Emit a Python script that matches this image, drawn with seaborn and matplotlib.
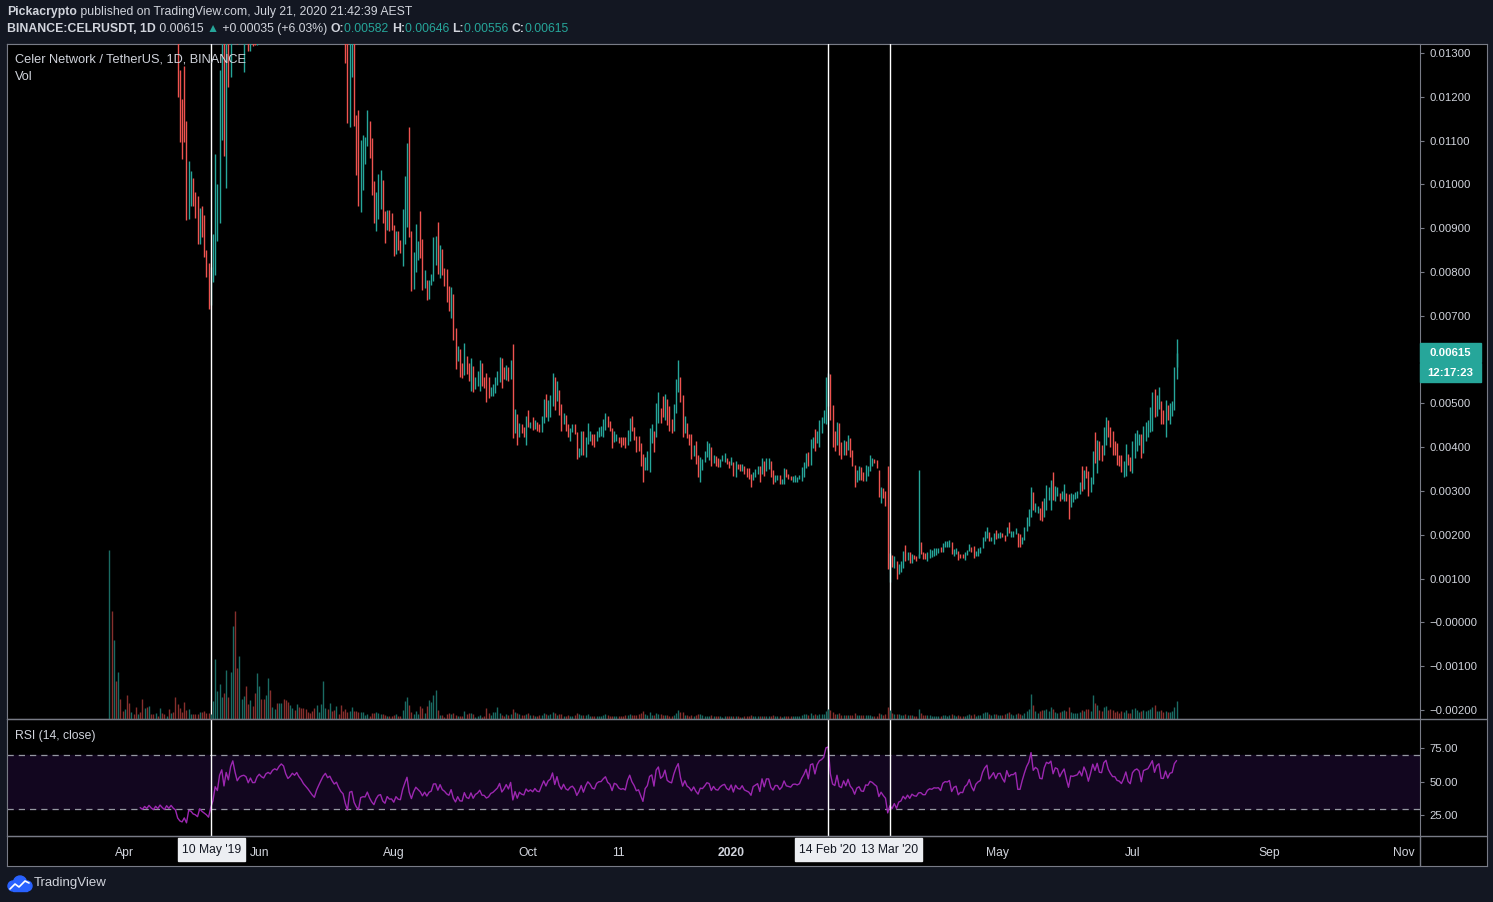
import numpy as np
import pandas as pd
import seaborn as sns
import matplotlib
matplotlib.use("Agg")
import matplotlib.pyplot as plt
import matplotlib.dates as mdates
from matplotlib.lines import Line2D
from matplotlib.patches import Rectangle, Circle

# ---------------- data ----------------
# daily CELR/USDT candles from the listing day, prices in units of 0.00001 USDT
start_date = "2019-03-25"

opens = [
    2000, 2300, 2050, 2150, 1980, 2080, 1950, 1880, 1990, 1900,   # d0
    1840, 1920, 1850, 1780, 1820, 1760, 1700, 1740, 1680, 1720,   # d10
    1650, 1600, 1640, 1580, 1620, 1560, 1510, 1550, 1490, 1520,   # d20
    1460, 1420, 1261, 1196, 1270, 1145, 920, 950, 1015, 983,      # d30
    973, 865, 950, 930, 850, 820, 724, 777, 792, 871,             # d40
    911, 1101, 1420, 992, 1520, 1246, 1650, 1900, 1600, 1320,     # d50
    1450, 1257, 1520, 1560, 1305, 1480, 1400, 1318, 1480, 1560,   # d60
    1500, 1470, 1580, 1620, 1590, 1680, 1720, 1700, 1790, 1850,   # d70
    1820, 1700, 1620, 1660, 1720, 1690, 1740, 1680, 1640, 1580,   # d80
    1540, 1500, 1450, 1400, 1360, 1440, 1500, 1560, 1620, 1660,   # d90
    1610, 1630, 1580, 1540, 1560, 1500, 1450, 1460, 1340, 1132,   # d100
    1246, 1340, 1158, 1170, 937, 987, 1046, 1087, 1145, 1105,     # d110
    1007, 894, 920, 944, 1010, 939, 895, 941, 934, 907,           # d120
    840, 893, 874, 814, 863, 903, 1131, 893, 762, 800,            # d130
    828, 939, 875, 764, 781, 739, 771, 779, 815, 914,             # d140
    787, 852, 809, 806, 767, 695, 749, 672, 596, 625,             # d150
    592, 564, 609, 592, 529, 585, 533, 539, 529, 592,             # d160
    560, 569, 561, 516, 516, 523, 541, 548, 604, 584,             # d170
    554, 583, 555, 636, 432, 475, 423, 452, 447, 406,             # d180
    486, 443, 470, 442, 458, 453, 434, 455, 522, 459,             # d190
    470, 493, 560, 505, 531, 499, 452, 474, 452, 415,             # d200
    434, 453, 434, 377, 383, 436, 378, 408, 415, 429,             # d210
    429, 413, 423, 425, 424, 440, 472, 459, 444, 411,             # d220
    413, 424, 424, 424, 423, 406, 415, 472, 447, 426,             # d230
    426, 410, 385, 349, 349, 343, 409, 438, 424, 455,             # d240
    490, 516, 462, 510, 495, 465, 436, 478, 526, 560,             # d250
    518, 432, 456, 430, 430, 379, 413, 382, 320, 349,             # d260
    365, 378, 371, 401, 364, 379, 375, 354, 368, 367,             # d270
    376, 369, 359, 365, 331, 362, 362, 346, 358, 353,             # d280
    353, 339, 324, 333, 339, 358, 339, 369, 346, 350,             # d290
    369, 349, 320, 325, 337, 317, 317, 350, 339, 335,             # d300
    320, 320, 320, 327, 322, 333, 353, 388, 360, 398,             # d310
    442, 409, 401, 432, 455, 452, 495, 566, 497, 436,             # d320
    404, 455, 411, 383, 415, 394, 421, 394, 360, 320,             # d330
    325, 354, 344, 322, 335, 346, 356, 372, 371, 349,             # d340
    272, 306, 301, 356, 91, 154, 125, 141, 110, 114,              # d350
    125, 177, 142, 161, 135, 154, 152, 148, 184, 160,             # d360
    158, 141, 148, 150, 152, 154, 158, 171, 161, 171,             # d370
    171, 171, 184, 152, 157, 164, 157, 156, 143, 154,             # d380
    162, 173, 175, 152, 152, 158, 169, 185, 193, 207,             # d390
    185, 180, 211, 193, 193, 204, 200, 198, 230, 194,             # d400
    195, 202, 204, 201, 180, 188, 209, 221, 240, 297,             # d410
    253, 249, 262, 276, 240, 257, 280, 257, 344, 278,             # d420
    289, 295, 282, 278, 295, 293, 264, 274, 282, 284,             # d430
    292, 356, 305, 356, 346, 297, 316, 434, 340, 415,             # d440
    404, 381, 406, 463, 446, 436, 413, 409, 383, 381,             # d450
    331, 335, 385, 377, 340, 375, 391, 404, 430, 386,             # d460
    414, 424, 434, 438, 532, 471, 488, 506, 484, 423,             # d470
    497, 452, 471, 486, 582,                                      # d480
]

closes = [
    2300, 2050, 2150, 1980, 2080, 1950, 1880, 1990, 1900, 1840,   # d0
    1920, 1850, 1780, 1820, 1760, 1700, 1740, 1680, 1720, 1650,   # d10
    1600, 1640, 1580, 1620, 1560, 1510, 1550, 1490, 1520, 1460,   # d20
    1420, 1200, 1097, 1059, 1097, 918, 1053, 1030, 950, 924,      # d30
    865, 946, 880, 834, 788, 716, 811, 886, 1069, 1000,           # d40
    1261, 1380, 1065, 1400, 1222, 1650, 1900, 1600, 1320, 1450,   # d50
    1500, 1520, 1480, 1305, 1450, 1316, 1318, 1480, 1560, 1500,   # d60
    1470, 1580, 1620, 1590, 1680, 1720, 1700, 1790, 1850, 1820,   # d70
    1700, 1620, 1660, 1720, 1690, 1740, 1680, 1640, 1580, 1540,   # d80
    1500, 1450, 1400, 1360, 1440, 1500, 1560, 1620, 1660, 1610,   # d90
    1630, 1580, 1540, 1560, 1500, 1450, 1420, 1278, 1141, 1335,   # d100
    1345, 1133, 1021, 950, 1101, 1113, 1109, 1170, 1061, 975,     # d110
    912, 982, 1023, 1032, 912, 866, 941, 894, 895, 837,           # d120
    893, 851, 843, 943, 1019, 1095, 880, 756, 845, 909,           # d130
    870, 832, 760, 804, 737, 781, 795, 880, 882, 796,             # d140
    861, 792, 769, 731, 711, 766, 644, 579, 630, 561,             # d150
    558, 638, 566, 551, 603, 525, 561, 574, 600, 539,             # d160
    536, 503, 512, 537, 545, 560, 575, 607, 535, 556,             # d170
    587, 551, 598, 420, 488, 404, 456, 432, 423, 472,             # d180
    445, 458, 439, 463, 438, 434, 472, 509, 470, 507,             # d190
    520, 569, 484, 550, 474, 438, 478, 436, 423, 444,             # d200
    452, 429, 372, 398, 438, 381, 424, 456, 438, 406,             # d210
    400, 436, 447, 448, 465, 478, 447, 436, 397, 436,             # d220
    430, 409, 401, 404, 397, 440, 467, 436, 417, 388,             # d230
    392, 358, 321, 377, 392, 443, 452, 390, 500, 527,             # d240
    455, 470, 522, 451, 438, 432, 499, 556, 600, 503,             # d250
    423, 472, 421, 404, 373, 404, 362, 333, 377, 373,             # d260
    392, 415, 409, 356, 382, 358, 354, 372, 382, 387,             # d270
    362, 353, 377, 335, 369, 350, 346, 362, 339, 333,             # d280
    327, 310, 344, 350, 356, 320, 375, 335, 375, 375,             # d290
    331, 316, 337, 337, 317, 327, 353, 331, 328, 325,             # d300
    335, 336, 333, 337, 354, 367, 386, 358, 419, 424,             # d310
    391, 438, 462, 470, 485, 560, 569, 461, 401, 391,             # d320
    457, 381, 372, 417, 381, 427, 377, 356, 310, 349,             # d330
    358, 325, 322, 360, 358, 381, 375, 363, 353, 287,             # d340
    308, 285, 266, 122, 158, 127, 152, 100, 133, 139,             # d350
    164, 141, 161, 135, 156, 144, 141, 156, 157, 145,             # d360
    145, 161, 167, 165, 170, 169, 170, 160, 181, 186,             # d370
    185, 189, 156, 167, 170, 142, 148, 147, 161, 166,             # d380
    179, 160, 148, 164, 170, 173, 195, 209, 218, 186,             # d390
    195, 205, 190, 205, 206, 194, 185, 218, 203, 209,             # d400
    209, 215, 171, 171, 194, 217, 241, 259, 310, 257,             # d410
    272, 266, 234, 232, 283, 314, 310, 324, 280, 312,             # d420
    308, 278, 299, 317, 278, 237, 295, 293, 297, 301,             # d430
    320, 301, 349, 329, 288, 331, 392, 363, 417, 371,             # d440
    369, 447, 470, 424, 400, 381, 381, 360, 356, 343,             # d450
    369, 408, 360, 346, 413, 432, 440, 430, 375, 449,             # d460
    457, 463, 491, 525, 468, 520, 537, 453, 452, 507,             # d470
    463, 501, 506, 584, 615,                                      # d480
]

# daily volume, relative units
volumes = [
    169, 108, 79, 38, 47, 20, 8, 10, 24, 16,      # d0
    7, 5, 12, 5, 7, 20, 11, 12, 13, 5,            # d10
    5, 6, 3, 11, 6, 5, 3, 10, 6, 7,               # d20
    22, 15, 11, 7, 17, 9, 10, 5, 5, 5,            # d30
    5, 7, 7, 8, 6, 6, 5, 18, 60, 28,              # d40
    35, 22, 26, 49, 22, 47, 93, 108, 51, 63,      # d50
    20, 23, 33, 15, 19, 13, 26, 46, 33, 20,       # d60
    20, 24, 41, 29, 12, 10, 16, 16, 16, 20,       # d70
    19, 17, 14, 11, 9, 15, 12, 11, 11, 10,        # d80
    7, 6, 8, 11, 14, 7, 15, 38, 11, 10,           # d90
    16, 8, 9, 13, 5, 14, 8, 10, 7, 8,             # d100
    12, 8, 8, 7, 7, 7, 4, 5, 3, 6,                # d110
    6, 7, 6, 5, 5, 4, 3, 3, 3, 4,                 # d120
    5, 3, 3, 9, 18, 22, 14, 7, 5, 8,              # d130
    5, 13, 11, 6, 13, 19, 17, 24, 29, 9,          # d140
    4, 4, 2, 5, 6, 5, 6, 4, 3, 3,                 # d150
    3, 8, 5, 6, 6, 5, 2, 3, 4, 2,                 # d160
    3, 11, 6, 4, 7, 7, 12,                        # d170
    6, 4, 3, 5, 4, 5, 10, 7, 6, 5,                # d177
    4, 4, 5, 6, 4, 4, 3, 3, 4, 4,                 # d187
    6, 5, 4, 5, 7, 6, 4, 5, 5, 3,                 # d197
    3, 4, 3, 3, 4, 6, 5, 4, 4, 4,                 # d207
    5, 3, 3, 3, 3, 3, 3, 4, 5, 4,                 # d217
    3, 3, 3, 3, 3, 3, 3, 4, 4, 5,                 # d227
    4, 4, 4, 5, 6, 8, 5, 4, 7, 4,                 # d237
    4, 6, 5, 5, 4, 4, 4, 3, 3, 4,                 # d247
    6, 9, 7, 7, 4, 4, 3, 4, 3, 4,                 # d257
    5, 5, 4, 3, 3, 3, 4, 3, 3, 3,                 # d267
    3, 2, 3, 3, 3, 3, 3, 3, 3, 2,                 # d277
    2, 3, 3, 3, 4, 3, 3, 3, 3, 3,                 # d287
    3, 3, 3, 3, 4, 3, 3, 3, 2, 3,                 # d297
    3, 3, 3, 3, 3, 3, 3, 4, 5, 5,                 # d307
    4, 6, 4, 5, 4, 5, 5, 5, 8, 10,                # d317
    9, 7, 5, 5, 6, 4, 4, 4, 4, 4,                 # d327
    4, 6, 4, 4, 4, 4, 4, 4, 4, 3,                 # d337
    3, 3, 6, 5, 4, 5, 12, 9, 6, 5,                # d347
    5, 5, 4, 4, 5, 4, 4, 4, 3, 3,                 # d357
    10, 6, 4, 4, 4, 4, 3, 3, 3, 3,                # d367
    3, 4, 4, 3, 4, 5, 4, 3, 4, 3,                 # d377
    3, 3, 4, 5, 4, 5, 3, 4, 4, 6,                 # d387
    7, 7, 5, 4, 5, 5, 4, 4, 4, 5,                 # d397
    6, 7, 5, 4, 5, 6, 5, 4, 6, 8,                 # d407
    10, 25, 14, 8, 6, 8, 9, 9, 10, 8,             # d417
    12, 10, 7, 6, 7, 8, 9, 8, 12, 7,              # d427
    6, 6, 6, 7, 9, 8, 10, 10, 8, 24,              # d437
    16, 14, 9, 8, 12, 13, 9, 10, 9, 7,            # d447
    8, 6, 8, 7, 9, 6, 6, 10, 11, 9,               # d457
    7, 8, 9, 8, 9, 10, 12, 14, 8, 8,              # d467
    9, 7, 8, 7, 7, 8, 12, 18,                     # d477
]

# candles whose wicks reach well past the body
wick_dates = ["2020-03-26", "2020-07-21"]
wick_lows = [148, 556]
wick_highs = [349, 646]

marked_dates = ["2019-05-10", "2020-02-14", "2020-03-13"]
marked_labels = ["10 May '19", "14 Feb '20", "13 Mar '20"]

tick_dates = ["2019-04-01", "2019-06-01", "2019-08-01", "2019-10-01", "2019-11-11",
              "2020-01-01", "2020-05-01", "2020-07-01", "2020-09-01", "2020-11-01"]
tick_labels = ["Apr", "Jun", "Aug", "Oct", "11", "2020", "May", "Jul", "Sep", "Nov"]

price_ticks = [1300, 1200, 1100, 1000, 900, 800, 700, 600, 500, 400, 300, 200, 100, 0, -100, -200]
rsi_ticks = [25, 50, 75]

assert len(opens) == len(closes) == len(volumes) == 485

# ---------------- style ----------------
W, H = 1493, 902
BG = "#131722"
LINE = "#787b86"
TXT = "#d1d4dc"
UP, DOWN = "#26a69a", "#ef5350"

sns.set_style("dark")
plt.rcParams["font.family"] = ["Liberation Sans", "DejaVu Sans"]

fig = plt.figure(figsize=(W / 100, H / 100), dpi=100, facecolor=BG)


def box(x0, y0, x1, y1):
    return [x0 / W, 1 - y1 / H, (x1 - x0) / W, (y1 - y0) / H]


def ftext(x, y, s, **kw):
    return fig.text(x / W, 1 - y / H, s, **kw)


def fline(xs, ys):
    fig.add_artist(Line2D([x / W for x in xs], [1 - y / H for y in ys], color=LINE, lw=1))


frame = fig.add_axes(box(7, 44, 1487, 866))
frame.set_facecolor("black")
frame.set_xticks([])
frame.set_yticks([])
for s in frame.spines.values():
    s.set_color(LINE)

ax = fig.add_axes(box(7, 44, 1420, 719))
ax_rsi = fig.add_axes(box(7, 719, 1420, 836))

dates = pd.date_range(start_date, periods=len(closes), freq="D")
xd = mdates.date2num(dates)
x_start = mdates.date2num(pd.Timestamp(start_date))
xlim = (x_start - 46.4, x_start + 594.4)

o = np.array(opens) / 1e5
c = np.array(closes) / 1e5
up = c >= o

# ---------------- price pane ----------------
ax.set_facecolor("black")
ax.vlines(xd, np.minimum(o, c), np.maximum(o, c), colors=np.where(up, UP, DOWN), lw=1.0, zorder=3)
w_idx = [dates.get_loc(pd.Timestamp(d)) for d in wick_dates]
ax.vlines(xd[w_idx], np.array(wick_lows) / 1e5, np.array(wick_highs) / 1e5,
          colors=[UP if up[i] else DOWN for i in w_idx], lw=1.0, zorder=3)
ax.set_xlim(xlim)
ax.set_ylim(-0.002207, 0.013206)
ax.set_xticks([])

# volume overlay (twinx resets the host's tick side, so set the price axis afterwards)
axv = ax.twinx()
axv.vlines(xd, 0, volumes, colors=np.where(up, "#1a6b63", "#862f2d"), lw=1.0)
axv.set_ylim(0, 675)
axv.set_xlim(xlim)
axv.axis("off")

ax.yaxis.tick_right()
ax.set_yticks(np.array(price_ticks) / 1e5)
ax.set_yticklabels([f"{v / 1e5:.5f}" if v > 0 else "\u2212" + f"{abs(v) / 1e5:.5f}" for v in price_ticks])
ax.tick_params(axis="y", left=False, labelleft=False, right=True, labelright=True,
               color=LINE, labelcolor=TXT, length=3, width=0.8, pad=4, labelsize=8.2)
ax.grid(False)
for s in ax.spines.values():
    s.set_color(LINE)

# ---------------- RSI pane ----------------
diff = np.diff(c)
gain, loss = np.clip(diff, 0, None), np.clip(-diff, 0, None)
avg_g, avg_l = np.full(len(diff), np.nan), np.full(len(diff), np.nan)
avg_g[13], avg_l[13] = gain[:14].mean(), loss[:14].mean()
for i in range(14, len(diff)):
    avg_g[i] = (avg_g[i - 1] * 13 + gain[i]) / 14
    avg_l[i] = (avg_l[i - 1] * 13 + loss[i]) / 14
rsi = np.concatenate([[np.nan], 100 - 100 / (1 + avg_g / avg_l)])
rsi_df = pd.DataFrame({"date": dates, "rsi": rsi}).dropna()

ax_rsi.set_facecolor("black")
ax_rsi.axhspan(30, 70, color="#12061f", zorder=0)
for lvl in (70, 30):
    ax_rsi.axhline(lvl, color="#9598a1", lw=0.9, ls=(0, (5, 4)), zorder=1)
sns.lineplot(data=rsi_df, x="date", y="rsi", ax=ax_rsi, color="#9c27b0", lw=1.0)
ax_rsi.set_xlabel("")
ax_rsi.set_ylabel("")
ax_rsi.set_xlim(xlim)
ax_rsi.set_ylim(9.5, 96.8)
ax_rsi.yaxis.tick_right()
ax_rsi.set_yticks(rsi_ticks)
ax_rsi.set_yticklabels([f"{v:.2f}" for v in rsi_ticks])
ax_rsi.set_xticks(mdates.date2num(pd.to_datetime(tick_dates)))
ax_rsi.set_xticklabels(tick_labels)
for lab in ax_rsi.get_xticklabels():
    if lab.get_text() == "2020":
        lab.set_fontweight("bold")
ax_rsi.tick_params(axis="y", color=LINE, labelcolor=TXT, length=3, width=0.8, pad=4, labelsize=8.2)
ax_rsi.tick_params(axis="x", color=LINE, labelcolor=TXT, length=2.5, width=0.8, pad=5.5, labelsize=8.7)
ax_rsi.grid(False)
for s in ax_rsi.spines.values():
    s.set_color(LINE)

for d in marked_dates:
    xm = mdates.date2num(pd.Timestamp(d))
    ax.axvline(xm, color="white", lw=1.0, zorder=4)
    ax_rsi.axvline(xm, color="white", lw=1.0, zorder=4)

# extra frame lines
fline([7, 1487], [719, 719])
fline([7, 1487], [836, 836])
fline([1420, 1420], [836, 866])

# date boxes on the time axis
fig.add_artist(Rectangle((178 / W, 1 - 861 / H), 67 / W, 23 / H, transform=fig.transFigure,
                         color="#eceef2", zorder=5))
fig.add_artist(Rectangle((795 / W, 1 - 861 / H), 127 / W, 23 / H, transform=fig.transFigure,
                         color="#eceef2", zorder=5))
for xm, lab in zip([211.5, 827.5, 889.5], marked_labels):
    ftext(xm, 850, lab, ha="center", va="center", color=BG, fontsize=8.7, zorder=6)

# last price tags
for (y0, y1), lab in zip([(343, 362), (363, 382)], ["0.00615", "12:17:23"]):
    fig.add_artist(Rectangle((1420 / W, 1 - y1 / H), 61 / W, (y1 - y0) / H, transform=fig.transFigure,
                             color=UP, zorder=5))
    ftext(1450.5, (y0 + y1) / 2, lab, ha="center", va="center", color="white", fontsize=8.2,
          fontweight="bold", zorder=6)

# legends inside panes
ftext(15, 60, "Celer Network / TetherUS, 1D, BINANCE", color=TXT, fontsize=9.2, va="center")
ftext(15, 77, "Vol", color=TXT, fontsize=9.2, va="center")
ftext(15, 736, "RSI (14, close)", color=TXT, fontsize=8.7, va="center")

# header
renderer = fig.canvas.get_renderer()


def chain(x, y, parts, size=8.85):
    for s, col, wt in parts:
        t = ftext(x, y, s, color=col, fontweight=wt, fontsize=size, va="center", ha="left")
        x += t.get_window_extent(renderer=renderer).width


chain(7, 12, [("Pickacrypto", TXT, "bold"),
              (" published on TradingView.com, July 21, 2020 21:42:39 AEST", TXT, "normal")])
chain(7, 29, [("BINANCE:CELRUSDT, 1D", TXT, "bold"), (" 0.00615 ", TXT, "normal"),
              ("\u25b2", UP, "normal"), (" +0.00035 (+6.03%) ", TXT, "normal"),
              ("O:", TXT, "bold"), ("0.00582 ", UP, "normal"),
              ("H:", TXT, "bold"), ("0.00646 ", UP, "normal"),
              ("L:", TXT, "bold"), ("0.00556 ", UP, "normal"),
              ("C:", TXT, "bold"), ("0.00615", UP, "normal")])

# TradingView logo
logo = fig.add_axes(box(5, 874, 33, 894))
logo.set_xlim(0, 28)
logo.set_ylim(20, 0)
logo.axis("off")
for (cx, cy, r) in [(8, 12, 5), (15, 8.5, 6.5), (22, 12, 5)]:
    logo.add_patch(Circle((cx, cy), r, color="#2962ff"))
logo.add_patch(Rectangle((8, 11), 14, 6, color="#2962ff"))
logo.plot([5, 10, 14, 20, 24], [15, 10, 13, 7, 9], color="white", lw=1.2)
ftext(34, 883, "TradingView", color=TXT, fontsize=9.5, va="center")

fig.savefig("out.png", dpi=100, facecolor=BG)
